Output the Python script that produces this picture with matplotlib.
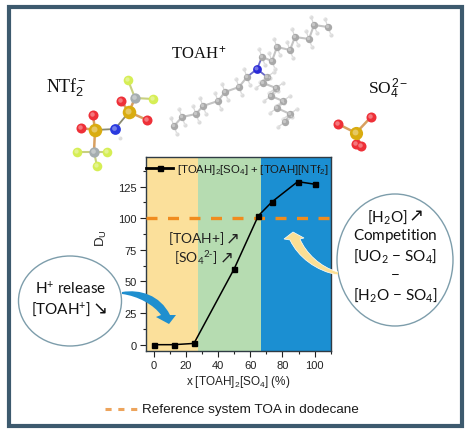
import numpy as np
import matplotlib
matplotlib.use('Agg')
import matplotlib.pyplot as plt
from matplotlib.patches import Ellipse, PathPatch, Rectangle
from matplotlib.path import Path

# mathtext fonts: rm = chart text, sf = callout text, it = serif labels
plt.rcParams['font.family'] = ['Liberation Sans', 'DejaVu Sans']
plt.rcParams['mathtext.fontset'] = 'custom'
plt.rcParams['mathtext.rm'] = 'Liberation Sans'
plt.rcParams['mathtext.sf'] = 'Lato'
plt.rcParams['mathtext.it'] = 'Liberation Serif:normal'

# data
x_frac = [0, 12.5, 25, 50, 65, 73.5, 89.5, 100]
du = [0, 0, 1, 60, 102, 113, 129, 127]
ref_du = 100
band_edges = [-5, 27.5, 66.6, 110]
band_colors = ['#fbe09b', '#b6dcb1', '#1b8fd2']
xticks = [0, 20, 40, 60, 80, 100]
yticks = [0, 25, 50, 75, 100, 125]

# molecule drawings (pixel positions on the figure)
chain1 = [(174, 127), (182, 118), (196, 115), (203, 107), (218, 102), (225, 93), (239, 88), (247, 78)]
chain2 = [(262, 58), (272, 62), (277, 48), (290, 51), (295, 38), (309, 40), (314, 26), (328, 28)]
chain3 = [(267, 78), (263, 84), (276, 89), (271, 97), (283, 102), (277, 109), (290, 115), (285, 123)]
toa_n = (257, 70)
ntf2_s = [(95, 131), (129, 113)]
ntf2_n = (115, 130)
ntf2_o = [(93, 116), (81, 129), (121, 102), (147, 121)]
ntf2_c = [(94, 153), (135, 99)]
ntf2_f = [(77, 153), (107, 153), (97, 167), (128, 81), (153, 100)]
so4_s = (356, 134)
so4_o = [(338, 125), (371, 118), (356, 145), (361, 147)]

W, H = 474, 439
fig = plt.figure(figsize=(W / 100, H / 100), dpi=100, facecolor='white')

# main chart
ax_l, ax_r, ax_t, ax_b = 146, 330.7, 158, 352
ax = fig.add_axes([ax_l / W, 1 - ax_b / H, (ax_r - ax_l) / W, (ax_b - ax_t) / H])
for i in range(3):
    ax.axvspan(band_edges[i], band_edges[i + 1], color=band_colors[i], lw=0, zorder=0)
ax.axhline(ref_du, color='#f08c1e', lw=2.4, dashes=(3.3, 3.15), zorder=3)
ax.plot(x_frac, du, color='black', lw=1.1, marker='s', ms=3.6, zorder=4,
        label=r'$\mathrm{[TOAH]_2[SO_4]\ {+}\ [TOAH][NTf_2]}$')
ax.set_xlim(-4.8, 110)
ax.set_ylim(-5, 148.5)
ax.set_xticks(xticks)
ax.set_xticks([10, 30, 50, 70, 90, 110], minor=True)
ax.set_yticks(yticks)
ax.set_yticks(np.arange(12.5, 140, 25), minor=True)
ax.tick_params(labelsize=8, length=4, width=0.8, pad=2.5, colors='#222222')
ax.tick_params(which='minor', length=2.5, width=0.8, colors='#222222')
for s in ax.spines.values():
    s.set_color('#2f3b44')
    s.set_linewidth(1.0)
ax.set_xlabel(r'$\mathrm{x\ [TOAH]_2[SO_4]\ (\%)}$', fontsize=8.5, labelpad=2, color='#222222')
ax.set_ylabel(r'$\mathrm{D_U}$', fontsize=9.5, color='#222222')
ax.yaxis.set_label_coords(-0.2, 0.588)
leg = ax.legend(loc='upper left', bbox_to_anchor=(0, 0.974), frameon=False, fontsize=8.2, handlelength=2.4,
                borderaxespad=0, borderpad=0, handletextpad=0.3, labelcolor='#1a1a1a')
leg.get_lines()[0].set_linewidth(2.0)

# overlay in pixel coordinates
ov = fig.add_axes([0, 0, 1, 1], facecolor='none')
ov.set_xlim(0, W)
ov.set_ylim(H, 0)
ov.axis('off')

ov.add_patch(Rectangle((9.5, 7.5), 453, 420, fill=False, ec='#3d5a6e', lw=3, zorder=1))


def atoms(pts, color, size, z=6):
    pts = np.array(pts).reshape(-1, 2)
    ov.scatter(pts[:, 0], pts[:, 1], s=size, color=color, lw=0, zorder=z)
    ov.scatter(pts[:, 0] - 0.6, pts[:, 1] - 0.6, s=size * 0.2, color='white', alpha=0.35, lw=0, zorder=z + 0.1)


def bonds(a, pts, color='#b8b8b8', lw=1.3):
    for p in pts:
        ov.plot([a[0], p[0]], [a[1], p[1]], color=color, lw=lw, zorder=5, solid_capstyle='round')


# octyl chains with their hydrogens
for chain, off in ((chain1, (-3, -8)), (chain2, (-3, -8)), (chain3, (-7, 5))):
    c = np.array(chain)
    ov.plot(c[:, 0], c[:, 1], color='#c4c4c4', lw=1.5, zorder=5)
    for p in chain:
        h1 = (p[0] + off[0], p[1] + off[1])
        h2 = (p[0] - off[0], p[1] - off[1])
        bonds(p, [h1, h2], color='#d8d8d8', lw=0.9)
        atoms([h1, h2], '#dcdcdc', 9)
    atoms(chain, '#a9a9a9', 28)
bonds(toa_n, [chain1[-1], chain2[0], chain3[0]], color='#6a6ac8')
atoms([toa_n], '#2b2bd8', 40)

# NTf2
bonds(ntf2_n, ntf2_s, color='#8a8a70')
bonds(ntf2_s[0], [ntf2_o[0], ntf2_o[1], ntf2_c[0]], color='#d8a060', lw=1.8)
bonds(ntf2_s[1], [ntf2_o[2], ntf2_o[3], ntf2_c[1]], color='#d8a060', lw=1.8)
bonds(ntf2_c[0], ntf2_f[:3], color='#c8d080', lw=1.5)
bonds(ntf2_c[1], ntf2_f[3:], color='#c8d080', lw=1.5)
atoms(ntf2_f, '#d6ee55', 48)
atoms(ntf2_c, '#a5adb0', 55)
atoms(ntf2_s, '#d9ac10', 95)
atoms(ntf2_o, '#ee3038', 52)
atoms([ntf2_n], '#2a3adf', 60)
atoms([(120, 139)], '#dddddd', 8)

# SO4
bonds(so4_s, so4_o, color='#d8a060', lw=1.8)
atoms(so4_o, '#ee3038', 52)
atoms([so4_s], '#d9ac10', 90)

# species labels
ov.text(199, 54, r'$\mathit{TOAH}^{+}$', fontsize=12, ha='center', va='center', color='#111111')
ov.text(66, 88, r'$\mathit{NTf}_{2}^{-}$', fontsize=13, ha='center', va='center', color='#111111')
ov.text(388, 89, r'$\mathit{SO}_{4}^{2-}$', fontsize=12.5, ha='center', va='center', color='#111111')

# callouts
ov.add_patch(Ellipse((70, 302), 103, 90, fc='white', ec='#7d9dab', lw=1.0, zorder=2))
ov.add_patch(Ellipse((395, 261), 116, 132, fc='white', ec='#7d9dab', lw=1.0, zorder=2))
ctxt = dict(fontsize=11, ha='center', va='center', color='#111111', zorder=7)
atxt = dict(family='DejaVu Sans', ha='center', va='center', zorder=7)
ov.text(71, 289, r'$\mathsf{H^{+}\ release}$', **ctxt)
ov.text(61, 310, r'$\mathsf{[TOAH^{+}]}$', **ctxt)
ov.text(100, 310, '↘', fontsize=13, color='#111111', **atxt)
ov.text(387, 217, r'$\mathsf{[H_2O]}$', **ctxt)
ov.text(416, 216, '↗', fontsize=13, color='#111111', **atxt)
ov.text(395, 236, r'$\mathsf{Competition}$', **ctxt)
ov.text(395, 256, r'$\mathsf{[UO_2\ {-}\ SO_4]}$', **ctxt)
ov.text(395, 275, r'$\mathsf{{-}}$', **ctxt)
ov.text(395, 295, r'$\mathsf{[H_2O\ {-}\ SO_4]}$', **ctxt)

# labels on the bands
ov.text(196, 239, r'$\mathsf{[TOAH{+}]}$', fontsize=10, ha='center', va='center', color='#222222', zorder=7)
ov.text(233, 238, '↗', fontsize=12, color='#222222', **atxt)
ov.text(196, 258, r'$\mathsf{[SO_4{}^{2\text{-}}]}$', fontsize=10, ha='center', va='center', color='#222222', zorder=7)
ov.text(227, 257, '↗', fontsize=12, color='#222222', **atxt)

# curved arrows
blue_arrow = [(122, 293), (140, 290), (160, 296), (170, 316), (176, 316), (169, 325), (156, 318), (161, 316),
              (154, 306), (138, 297), (122, 295)]
blue_codes = [Path.MOVETO, Path.CURVE4, Path.CURVE4, Path.CURVE4, Path.LINETO, Path.LINETO, Path.LINETO,
              Path.LINETO, Path.CURVE4, Path.CURVE4, Path.CURVE4]
ov.add_patch(PathPatch(Path(blue_arrow, blue_codes), fc='#1f8fcf', ec='none', zorder=6))
yellow_arrow = [(338, 276), (316, 272), (298, 258), (290, 241), (284, 240), (293, 233), (304, 239), (300, 240),
                (306, 254), (320, 268), (338, 273)]
ov.add_patch(PathPatch(Path(yellow_arrow, blue_codes), fc='#fbdf94', ec='white', lw=0.5, zorder=6))

# reference legend
ov.plot([105, 137], [410, 410], color='#eda45c', lw=2.2, dashes=(2, 2.2), zorder=6)
ov.text(142, 410, 'Reference system TOA in dodecane', fontsize=9.7, ha='left', va='center', color='#1a1a1a')

fig.savefig('out.png', dpi=100)
